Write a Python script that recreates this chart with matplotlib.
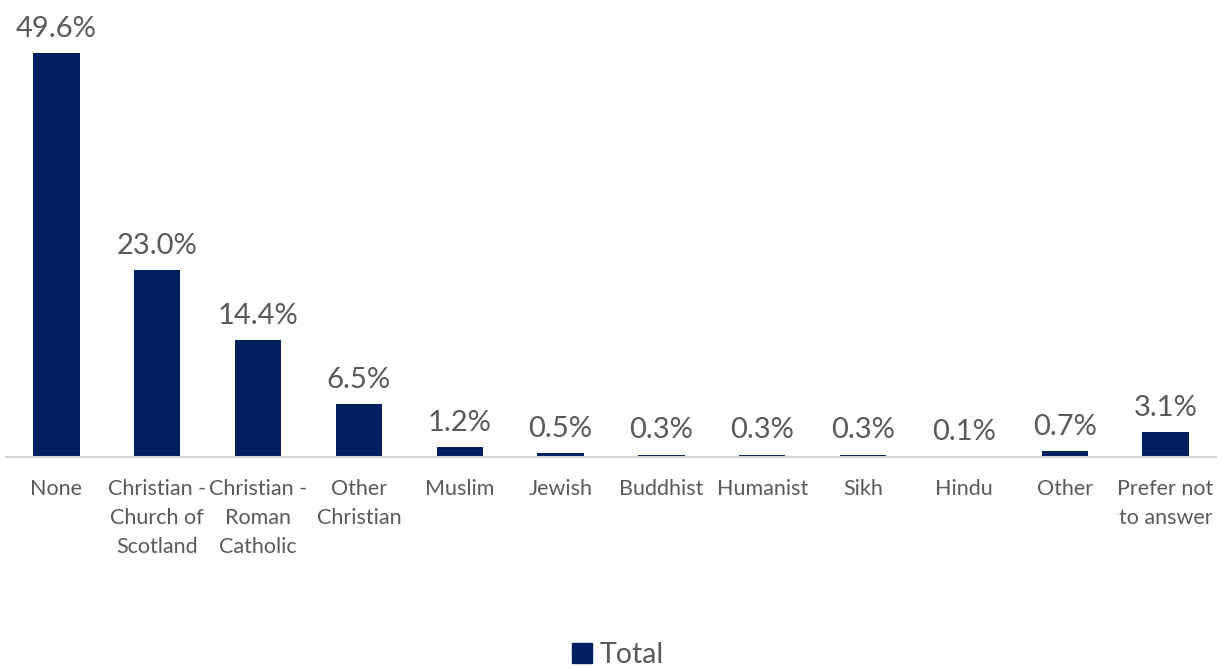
import matplotlib.pyplot as plt
from matplotlib.patches import Patch

categories = ["None", "Christian -\nChurch of\nScotland", "Christian -\nRoman\nCatholic",
              "Other\nChristian", "Muslim", "Jewish", "Buddhist", "Humanist", "Sikh",
              "Hindu", "Other", "Prefer not\nto answer"]
values = [49.6, 23.0, 14.4, 6.5, 1.2, 0.5, 0.3, 0.3, 0.3, 0.1, 0.7, 3.1]

bar_color = "#002060"
text_color = "#595959"
plt.rcParams['font.family'] = ['Lato', 'DejaVu Sans']

fig = plt.figure(figsize=(12.28, 6.7), dpi=100)
ax = fig.add_axes([6 / 1228, 213 / 670, 1210 / 1228, 456 / 670])

x = range(len(categories))
bars = ax.bar(x, values, width=0.46, color=bar_color)
ax.set_xlim(-0.5, len(categories) - 0.5)
ax.set_ylim(0, 56)

for b, v in zip(bars, values):
    ax.annotate(f"{v:.1f}%", (b.get_x() + b.get_width() / 2, v), xytext=(0, 8),
                textcoords="offset points", ha="center", va="bottom",
                fontsize=21, color=text_color)

ax.set_xticks(list(x))
ax.set_xticklabels(categories, fontsize=15.5, color=text_color, linespacing=1.55)
ax.tick_params(axis="x", length=0, pad=16)
ax.set_yticks([])
for s in ["top", "right", "left"]:
    ax.spines[s].set_visible(False)
ax.spines["bottom"].set_color("#D9D9D9")
ax.spines["bottom"].set_linewidth(1.5)

fig.legend(handles=[Patch(color=bar_color, label="Total")], loc="center",
           bbox_to_anchor=(618 / 1228, 1 - 655 / 670), frameon=False,
           fontsize=20.5, labelcolor=text_color, handlelength=0.7, handleheight=0.7,
           handletextpad=0.3)

fig.savefig("out.png", dpi=100)
